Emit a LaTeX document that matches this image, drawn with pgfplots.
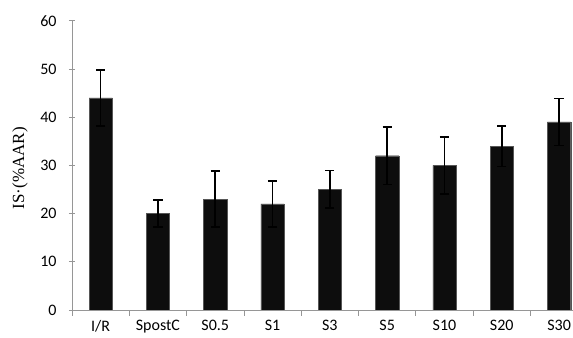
\documentclass[border=0pt]{standalone}
\usepackage{pgfplots}
\pgfplotsset{compat=1.18}
\usepackage{fontspec}
\setmainfont{Carlito}
\newfontfamily\timesfont{Liberation Serif}
\definecolor{barfill}{RGB}{13,13,13}
\definecolor{axgray}{RGB}{150,150,150}
\begin{document}
\begin{tikzpicture}
\begin{axis}[
  at={(72bp,28bp)}, anchor=south west,
  scale only axis,
  width=501bp, height=289.3bp,
  xmin=-0.5, xmax=8.243,
  ymin=0, ymax=60,
  ytick={0,10,...,60},
  xtick={0,...,8},
  xticklabels={I/R,SpostC,S0.5,S1,S3,S5,S10,S20,S30},
  minor xtick={-0.5,0.5,...,7.5},
  major x tick style={draw=none},
  minor x tick style={axgray, line width=0.8pt},
  y tick style={axgray, line width=0.8pt},
  tick align=outside,
  major tick length=6bp,
  minor tick length=6bp,
  axis x line=bottom, axis y line=left,
  axis line style={-, axgray, line width=0.8pt},
  /pgf/number format/assume math mode=true,
  tick label style={font=\fontsize{16bp}{19bp}\selectfont, black},
  xticklabel style={yshift=-1bp},
  yticklabel style={xshift=-9bp},
  ylabel={IS·(\%AAR)},
  ylabel style={at={(axis description cs:0,0.5)}, anchor=center, yshift=52bp, xshift=-3bp,
    font=\timesfont\fontsize{17bp}{20bp}\selectfont},
  ybar, bar width=23.3bp, bar shift=0pt,
]
\addplot[fill=barfill, draw=barfill!70!white, line width=0.4pt,
  error bars/.cd, y dir=both, y explicit,
  error bar style={black, line width=1.6pt},
  error mark options={black, line width=1.6pt, mark size=4.6bp, rotate=90}]
  coordinates {
  (0,44) +- (0,5.8)
  (1,20) +- (0,2.8)
  (2,23) +- (0,5.8)
  (3,22) +- (0,4.8)
  (4,25) +- (0,3.9)
  (5,32) +- (0,6.0)
  (6,30) +- (0,5.9)
  (7,34) +- (0,4.2)
  (8,39) +- (0,4.9)
  };
\end{axis}
\pgfresetboundingbox
\path[use as bounding box] (0,0) rectangle (573bp,338bp);
\end{tikzpicture}
\end{document}
